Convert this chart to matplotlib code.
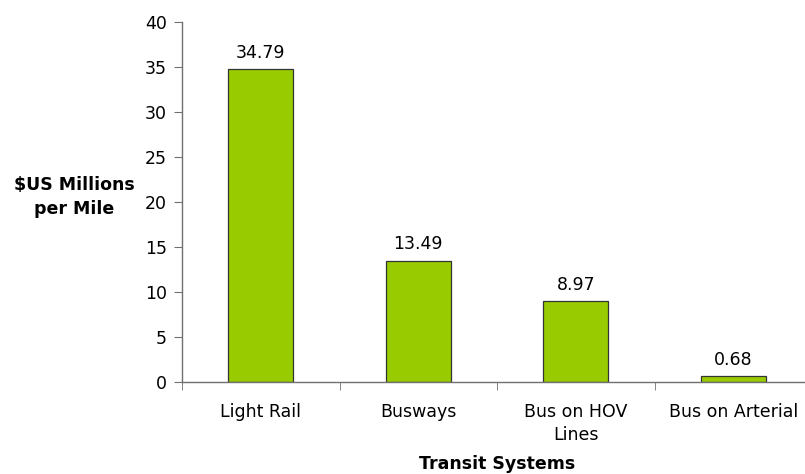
import numpy as np
import matplotlib.pyplot as plt

GREEN, AXIS = "#99CC00", "#707070"

categories = ["Light Rail", "Busways", "Bus on HOV\nLines", "Bus on Arterial"]
cost_per_mile = [34.79, 13.49, 8.97, 0.68]
value_labels = ["34.79", "13.49", "8.97", "0.68"]
y_ticks = [0, 5, 10, 15, 20, 25, 30, 35, 40]

plt.rcParams.update({"font.family": "DejaVu Sans", "font.size": 12.5})

fig = plt.figure(figsize=(8.05, 4.74), dpi=100)
# axis runs from x=182 px to past the right edge (category width 157.5 px)
ax = fig.add_axes([182 / 805, 1 - 382 / 474, 630 / 805, 360 / 474])

x = np.arange(len(categories))
ax.bar(x, cost_per_mile, width=0.41, color=GREEN, edgecolor="#333333", linewidth=0.9)
for xi, v, lab in zip(x, cost_per_mile, value_labels):
    ax.text(xi, v + 0.8, lab, ha="center", va="bottom")

ax.set_xlim(-0.5, len(categories) - 0.5)
ax.set_ylim(0, 40)
ax.set_yticks(y_ticks)
ax.set_xticks(x)
ax.set_xticklabels(categories, linespacing=1.4)
ax.set_xticks(np.arange(len(categories) + 1) - 0.5, minor=True)
ax.tick_params(axis="x", which="major", length=0, pad=15)
ax.tick_params(axis="x", which="minor", length=6, color=AXIS, direction="out")
ax.tick_params(axis="y", length=6, color=AXIS, pad=5)

for s in ["top", "right"]:
    ax.spines[s].set_visible(False)
for s in ["left", "bottom"]:
    ax.spines[s].set_color(AXIS)
    ax.spines[s].set_linewidth(1)

fig.text(74 / 805, 1 - 197 / 474, "$US Millions\nper Mile", ha="center", va="center",
         fontweight="bold", fontsize=12.5, linespacing=1.45)
fig.text(497 / 805, 1 - 464 / 474, "Transit Systems", ha="center", va="center",
         fontweight="bold", fontsize=12.5)

fig.savefig("out.png", dpi=100)
